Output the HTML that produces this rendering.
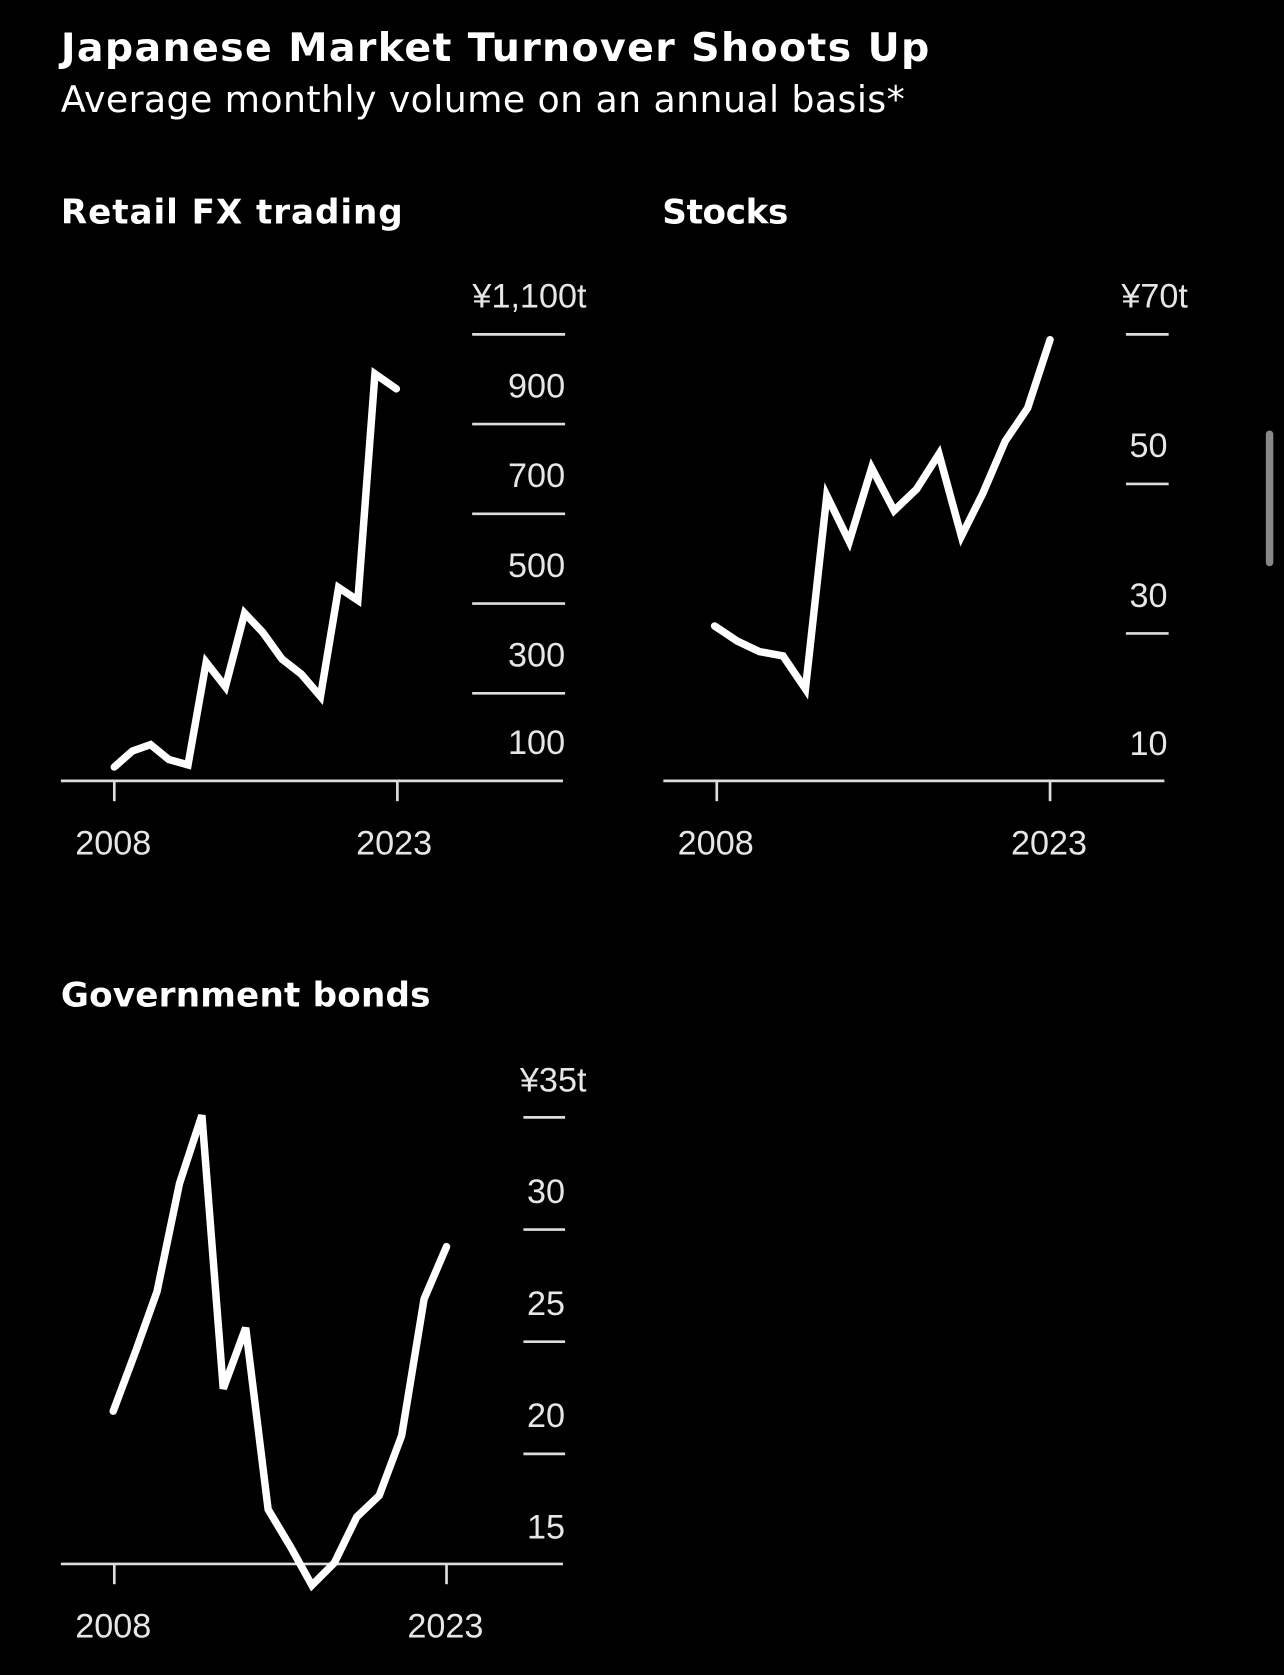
<!DOCTYPE html>
<html><head><meta charset="utf-8"><style>
html,body{margin:0;padding:0;background:#000;width:1284px;height:1675px;overflow:hidden}
svg{display:block}
text{font-family:"DejaVu Sans","Liberation Sans",sans-serif;fill:#fff}
.t text{fill:#e6e6e6;font-size:32px;font-family:"Liberation Sans",sans-serif}
</style></head><body>
<svg width="1284" height="1675" viewBox="0 0 1202 1568" preserveAspectRatio="none">
<rect width="1202" height="1568" fill="#000"/>
<text x="57" y="57" font-size="37" font-weight="bold" textLength="813" lengthAdjust="spacing">Japanese Market Turnover Shoots Up</text>
<text x="57" y="105" font-size="34" textLength="790" lengthAdjust="spacing">Average monthly volume on an annual basis*</text>
<text x="57" y="209" font-size="32" font-weight="bold" textLength="320" lengthAdjust="spacing">Retail FX trading</text>
<text x="620" y="209" font-size="32" font-weight="bold" textLength="118" lengthAdjust="spacing">Stocks</text>
<text x="57" y="942" font-size="32" font-weight="bold" textLength="346" lengthAdjust="spacing">Government bonds</text>
<g stroke="#ddd" stroke-width="2.5" fill="none">
<line x1="57" y1="731" x2="527" y2="731"/>
<line x1="107" y1="731" x2="107" y2="750"/><line x1="372" y1="731" x2="372" y2="750"/>
<line x1="442" y1="313" x2="529" y2="313"/><line x1="442" y1="397" x2="529" y2="397"/>
<line x1="442" y1="481" x2="529" y2="481"/><line x1="442" y1="565" x2="529" y2="565"/>
<line x1="442" y1="649" x2="529" y2="649"/>
<line x1="621" y1="731" x2="1090" y2="731"/>
<line x1="671" y1="731" x2="671" y2="750"/><line x1="983" y1="731" x2="983" y2="750"/>
<line x1="1054" y1="313" x2="1094" y2="313"/><line x1="1054" y1="453" x2="1094" y2="453"/>
<line x1="1054" y1="593" x2="1094" y2="593"/>
<line x1="57" y1="1464" x2="527" y2="1464"/>
<line x1="107" y1="1464" x2="107" y2="1483"/><line x1="418" y1="1464" x2="418" y2="1483"/>
<line x1="490" y1="1046" x2="529" y2="1046"/><line x1="490" y1="1151" x2="529" y2="1151"/>
<line x1="490" y1="1256" x2="529" y2="1256"/><line x1="490" y1="1361" x2="529" y2="1361"/>
</g>
<g class="t" text-anchor="end">
<text x="549" y="288">¥1,100t</text><text x="529" y="372">900</text><text x="529" y="456">700</text>
<text x="529" y="540">500</text><text x="529" y="624">300</text><text x="529" y="706">100</text>
<text x="1112" y="288">¥70t</text><text x="1093" y="428">50</text><text x="1093" y="568">30</text><text x="1093" y="707">10</text>
<text x="549" y="1022">¥35t</text><text x="529" y="1126">30</text><text x="529" y="1231">25</text>
<text x="529" y="1336">20</text><text x="529" y="1440">15</text>
</g>
<g class="t" text-anchor="middle">
<text x="106" y="800">2008</text><text x="369" y="800">2023</text>
<text x="670" y="800">2008</text><text x="982" y="800">2023</text>
<text x="106" y="1533">2008</text><text x="417" y="1533">2023</text>
</g>
<g stroke="#fff" stroke-width="7" fill="none" stroke-linejoin="miter" stroke-linecap="round">
<polyline points="107,718 124,703 141,697 158,711 176,716 193,620 211,643 229,574 246,592 264,617 282,631 300,652 317,550 335,562 351,350 371,364"/>
<polyline points="669,586 690,600 711,610 733,614 754,645 774,464 795,507 816,438 837,478 858,458 879,425 900,502 920,462 941,413 962,382 983,318"/>
<polyline points="106,1321 127,1265 147,1209 168,1108 189,1044 209,1300 230,1243 251,1413 272,1448 292,1484 313,1463 334,1420 355,1400 376,1344 397,1216 418,1167"/>
</g>
<rect x="1185" y="403" width="7" height="127" rx="3.5" fill="#888"/>
</svg>
</body></html>
